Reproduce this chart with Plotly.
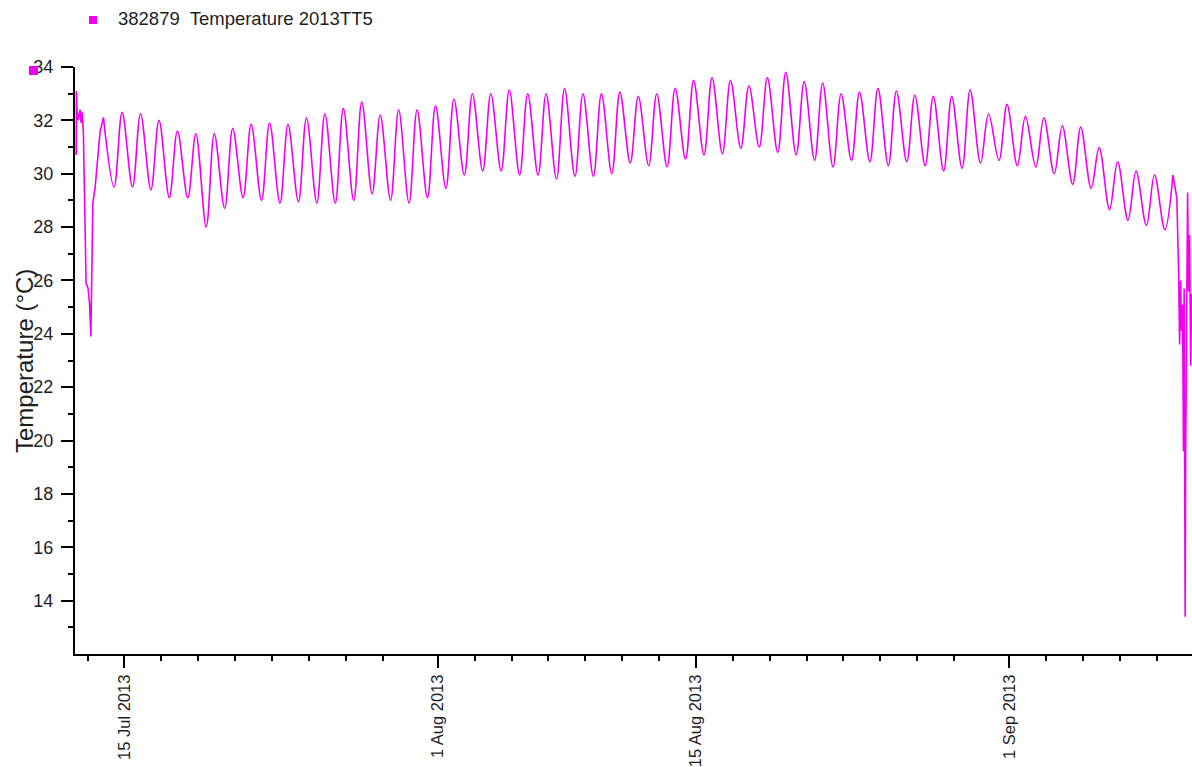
import pandas as pd
import plotly.graph_objects as go

# ---------------- data ----------------
series_name = "382879  Temperature 2013TT5"

# noisy start of the record (hours after 12 Jul 2013 00:00)
start_day = "2013-07-12"
start_hours = [9.2, 9.5, 9.8, 10.2, 11.7, 14.3, 15.6, 17.0, 18.6, 19.5, 20.8, 22.1,
               24.7, 26.7, 28.3, 29.3, 30.9, 33.9, 36.9, 40.4, 44.7]
start_vals = [30.7, 33.1, 31.9, 32.4, 32.0, 32.4, 31.9, 32.3, 31.5, 29.7, 27.4, 25.9,
              25.7, 25.1, 23.9, 26.3, 28.9, 29.5, 30.6, 31.6, 32.1]

# regular daily cycle, 14 Jul .. 9 Sep 2013
cycle_first_day = "2013-07-14"
trough_hour = 10.5
peak_hour = 21.0
daily_min = [
    # July 14..31
    29.5, 29.5, 29.4, 29.1, 29.1, 28.0, 28.7, 29.1, 29.0, 28.9, 28.95, 28.9, 28.9, 29.0,
    29.25, 29.0, 28.9, 29.1,
    # August 1..31
    29.45, 29.95, 30.1, 30.1, 29.95, 29.95, 29.8, 29.9, 29.9, 30.0, 30.4, 30.3, 30.25,
    30.55, 30.7, 30.75, 30.95, 31.0, 30.8, 30.7, 30.5, 30.25, 30.5, 30.45, 30.3, 30.45,
    30.3, 30.1, 30.2, 30.4, 30.5,
    # September 1..9
    30.3, 30.25, 30.0, 29.6, 29.45, 28.65, 28.25, 28.06, 27.9,
]
daily_max = [
    # July 14..31
    32.3, 32.25, 32.0, 31.6, 31.5, 31.5, 31.7, 31.85, 31.9, 31.85, 32.1, 32.25, 32.45, 32.7,
    32.2, 32.4, 32.4, 32.55,
    # August 1..31
    32.8, 33.0, 33.0, 33.15, 33.0, 33.0, 33.2, 33.0, 33.0, 33.06, 32.9, 33.0, 33.2,
    33.5, 33.6, 33.5, 33.3, 33.6, 33.8, 33.45, 33.4, 33.0, 33.06, 33.2, 33.1, 32.94,
    32.9, 32.9, 33.15, 32.25, 32.6,
    # September 1..9
    32.15, 32.1, 31.8, 31.75, 30.98, 30.45, 30.1, 29.95, 29.95,
]

# noisy end of the record (hours after 10 Sep 2013 00:00)
end_day = "2013-09-10"
end_hours = [2.1, 4.4, 5.7, 7.0, 8.3, 9.6, 10.7, 11.6, 12.2, 12.9, 13.5, 14.8, 16.1,
             17.4, 18.7, 20.1, 21.4]
end_vals = [29.1, 26.3, 23.6, 26.0, 24.1, 25.1, 19.6, 25.7, 17.8, 13.4, 19.0, 24.0, 29.3,
            25.6, 27.7, 22.8, 25.5]

# axis ticks
x_range = ["2013-07-12 07:40", "2013-09-10 21:50"]
major_dates = ["2013-07-15", "2013-08-01", "2013-08-15", "2013-09-01"]
major_labels = ["15 Jul 2013", "1 Aug 2013", "15 Aug 2013", "1 Sep 2013"]
minor_dates = ["2013-07-13", "2013-07-17", "2013-07-19", "2013-07-21", "2013-07-23",
               "2013-07-25", "2013-07-27", "2013-07-29", "2013-08-03", "2013-08-05",
               "2013-08-07", "2013-08-09", "2013-08-11", "2013-08-13", "2013-08-17",
               "2013-08-19", "2013-08-21", "2013-08-23", "2013-08-25", "2013-08-27",
               "2013-08-29", "2013-09-03", "2013-09-05", "2013-09-07", "2013-09-09"]
y_range = [12, 34]
y_major = [14, 16, 18, 20, 22, 24, 26, 28, 30, 32, 34]
y_minor = [13, 15, 17, 19, 21, 23, 25, 27, 29, 31, 33]
y_title = "Temperature (°C)"

# ---------------- build series ----------------
assert len(daily_min) == len(daily_max)
base = pd.Timestamp(start_day)
t_start = [base + pd.Timedelta(hours=h) for h in start_hours]
v_start = list(start_vals)

days = pd.date_range(cycle_first_day, periods=len(daily_min), freq="D")
t_cyc, v_cyc = [t_start[-1]], [v_start[-1]]
for d, lo, hi in zip(days, daily_min, daily_max):
    t_cyc += [d + pd.Timedelta(hours=trough_hour), d + pd.Timedelta(hours=peak_hour)]
    v_cyc += [lo, hi]

base = pd.Timestamp(end_day)
t_end = [t_cyc[-1]] + [base + pd.Timedelta(hours=h) for h in end_hours]
v_end = [v_cyc[-1]] + list(end_vals)

LINE = "#f000f0"
FONT = "Liberation Sans, Arial, sans-serif"
TXT = "#1e1e1e"

fig = go.Figure()
fig.add_trace(go.Scatter(x=t_start, y=v_start, mode="lines", name=series_name,
                         line=dict(color=LINE, width=1.6)))
fig.add_trace(go.Scatter(x=t_cyc, y=v_cyc, mode="lines", name=series_name,
                         line=dict(color=LINE, width=1.6, shape="spline", smoothing=1)))
fig.add_trace(go.Scatter(x=t_end, y=v_end, mode="lines", name=series_name,
                         line=dict(color=LINE, width=1.6)))

W, H = 1192, 767
ML, MR, MT, MB = 75, 0, 67, 113
pw, ph = W - ML - MR, H - MT - MB


def px(xp):
    return (xp - ML) / pw


def py(yp):
    return (H - MB - yp) / ph


fig.update_layout(
    width=W, height=H,
    margin=dict(l=ML, r=MR, t=MT, b=MB, autoexpand=False),
    plot_bgcolor="white", paper_bgcolor="white",
    showlegend=False,
    font=dict(family=FONT, size=18, color=TXT),
    xaxis=dict(
        type="date", range=x_range, automargin=False,
        showline=True, linecolor="black", linewidth=2,
        showgrid=False, zeroline=False,
        tickmode="array", tickvals=major_dates, ticktext=major_labels,
        tickangle=-90, ticks="outside", ticklen=12, tickwidth=1.5, tickcolor="black",
        tickfont=dict(size=16.5, color=TXT),
        minor=dict(tickmode="array", tickvals=minor_dates, ticks="outside",
                   ticklen=5, tickwidth=1.5, tickcolor="black", showgrid=False),
    ),
    yaxis=dict(
        range=y_range, automargin=False,
        showline=True, linecolor="black", linewidth=2,
        showgrid=False, zeroline=False,
        tickmode="array", tickvals=y_major,
        ticks="outside", ticklen=12, tickwidth=1.5, tickcolor="black",
        ticklabelstandoff=4,
        tickfont=dict(size=18, color=TXT),
        minor=dict(tickmode="array", tickvals=y_minor, ticks="outside", ticklen=5,
                   tickwidth=1.5, tickcolor="black", showgrid=False),
    ),
)

# y-axis title
fig.add_annotation(xref="paper", yref="paper", x=px(25), y=py(361),
                   xanchor="center", yanchor="middle", showarrow=False,
                   textangle=-90, text=y_title, font=dict(size=24, color=TXT))

# legend entry (square + name) at the top left
fig.add_shape(type="rect", xref="paper", yref="paper",
              x0=px(89), x1=px(97), y0=py(24), y1=py(16),
              fillcolor=LINE, line=dict(width=0))
fig.add_annotation(xref="paper", yref="paper", x=px(116), y=py(19),
                   xanchor="left", yanchor="middle", showarrow=False,
                   text=series_name, font=dict(size=18.5, color=TXT))
# small series marker next to the top of the y axis
fig.add_shape(type="rect", xref="paper", yref="paper",
              x0=px(29), x1=px(38), y0=py(75), y1=py(66),
              fillcolor=LINE, line=dict(width=0))

fig.write_html("out.html",
               config={"displayModeBar": False},
               post_script="document.body.style.margin='0';"
                           "document.body.style.overflow='hidden';")
